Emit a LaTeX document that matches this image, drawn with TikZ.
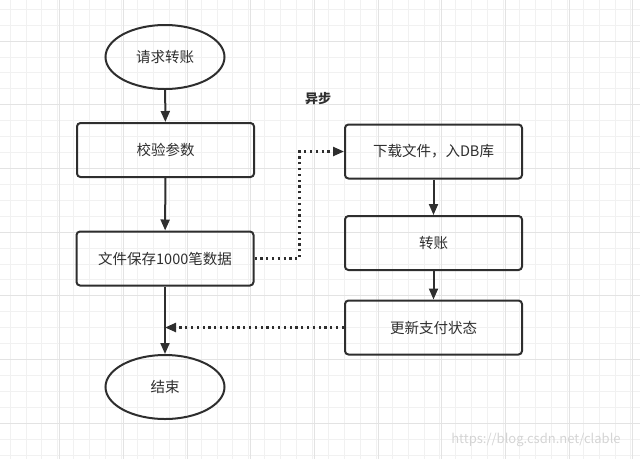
\documentclass[tikz,border=0pt]{standalone}
\usepackage{fontspec}
\newfontfamily\cjk{Noto Sans CJK SC}
\usetikzlibrary{arrows.meta,shapes.geometric}
\definecolor{ink}{HTML}{2E2E2E}
\definecolor{gridlo}{HTML}{F1F1F1}
\definecolor{gridhi}{HTML}{E3E3E3}

\begin{document}
\begin{tikzpicture}[x=1pt,y=-1pt,
		box/.style={draw=ink,line width=2pt,rounded corners=3.5pt,minimum width=177pt,minimum height=54pt,font=\cjk\fontsize{14.5}{16}\selectfont,text=ink},
		oval/.style={ellipse,draw=ink,line width=2pt,minimum width=119pt,minimum height=64pt,font=\cjk\fontsize{14.5}{16}\selectfont,text=ink},
		flow/.style={draw=ink,line width=2pt,-{Triangle[length=11pt,width=9pt]}},
		async/.style={draw=ink,line width=2.3pt,dash pattern=on 2.2pt off 3.6pt,-{Triangle[length=11pt,width=9pt]}}]
			\useasboundingbox (0,0) rectangle (640,459);
			% grid
			\foreach \gx in {0,...,39} \draw[gridlo,line width=0.8pt] ({10+15.92*\gx},0) -- ++(0,459);
			\foreach \gy in {0,...,28} \draw[gridlo,line width=0.8pt] (0,{9.2+15.92*\gy}) -- ++(640,0);
			\foreach \gx in {-1,...,9} \draw[gridhi,line width=1pt] ({59.8+63.68*\gx},0) -- ++(0,459);
			\foreach \gy in {0,...,6} \draw[gridhi,line width=1pt] (0,{41+63.68*\gy}) -- ++(640,0);
			% left column
			\node[oval] (start) at (165,57) {请求转账};
			\node[box] (check) at (165.5,150) {校验参数};
			\node[box] (save) at (165,258.5) {文件保存1000笔数据};
			\node[oval] (end) at (165,387) {结束};
			% right column
			\node[box] (download) at (433.5,151.5) {下载文件，入DB库};
			\node[box] (transfer) at (433.5,243) {转账};
			\node[box] (update) at (433.5,327.5) {更新支付状态};
			\node[font=\cjk\bfseries\fontsize{13}{15}\selectfont,text=ink] (asynclabel) at (318,99) {异步};
			\node[font=\cjk\fontsize{13}{15}\selectfont,text=black!17] (mark) at (536,440) {https://blog.csdn.net/clable};
			% connectors
			\draw[flow] (start) -- (check);
			\draw[flow] (check) -- (save);
			\draw[flow] (save) -- (end);
			\draw[flow] (download) -- (transfer);
			\draw[flow] (transfer) -- (update);
			\draw[async] (save.east) -- ++(45,0) |- (download.west);
			\draw[async] (update.west) -- (update.west -| end.north);
		\end{tikzpicture}
\end{document}
